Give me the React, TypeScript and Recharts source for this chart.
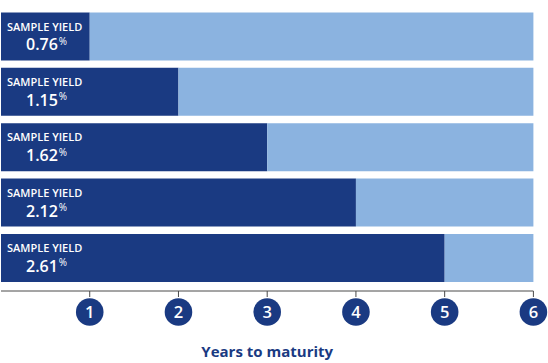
import React from "react";
import { BarChart, Bar, XAxis, YAxis, LabelList } from "recharts";

const yields = ["0.76", "1.15", "1.62", "2.12", "2.61"];
const maturity = [1, 2, 3, 4, 5];
const remainder = [5, 4, 3, 2, 1];
const xTicks = [1, 2, 3, 4, 5, 6];

const NAVY = "#1a3a82";
const LIGHT = "#8bb3e0";
const FONT = "'Open Sans', sans-serif";

const data = yields.map((y, i) => ({
  yield: y,
  years: maturity[i],
  rest: remainder[i],
}));

function CircleTick(props: any) {
  const { x, y, payload } = props;
  return (
    <g>
      <circle cx={x} cy={y + 15} r={13.8} fill={NAVY} />
      <text
        x={x}
        y={y + 21}
        textAnchor="middle"
        fill="#fff"
        fontSize={16.5}
        fontWeight={600}
        fontFamily={FONT}
      >
        {payload.value}
      </text>
    </g>
  );
}

function YieldLabel(props: any) {
  const { x, y, value } = props;
  return (
    <g fill="#fff" fontFamily={FONT}>
      <text x={x + 6} y={y + 18.2} fontSize={11} fontWeight={600}>
        SAMPLE YIELD
      </text>
      <text x={x + 25} y={y + 38} fontSize={16} fontWeight={600}>
        {value}
        <tspan fontSize={10} fontWeight={400} dx={1} dy={-5.5}>
          %
        </tspan>
      </text>
    </g>
  );
}

export default function App() {
  return (
    <div style={{ position: "absolute", left: 0, top: 0, background: "#fff", fontFamily: FONT }}>
      <BarChart
        layout="vertical"
        width={548}
        height={363}
        data={data}
        margin={{ top: 0, right: 14.6, bottom: 0, left: 1 }}
      >
        <XAxis
          type="number"
          domain={[0, 6]}
          ticks={xTicks}
          height={72}
          axisLine={{ stroke: "#4a4a4a" }}
          tickLine={{ stroke: "#4a4a4a" }}
          tickSize={6}
          tickMargin={0}
          tick={<CircleTick />}
          interval={0}
          label={{
            value: "Years to maturity",
            position: "insideBottom",
            offset: 6,
            fill: NAVY,
            fontSize: 15,
            fontWeight: 700,
            fontFamily: FONT,
          }}
        />
        <YAxis
          type="category"
          dataKey="yield"
          width={0}
          tick={false}
          tickLine={false}
          axisLine={{ stroke: "#4a4a4a" }}
          padding={{ top: 8.4, bottom: 5.7 }}
        />
        <Bar dataKey="years" stackId="a" fill={NAVY} barSize={48} isAnimationActive={false}>
          <LabelList dataKey="yield" content={<YieldLabel />} />
        </Bar>
        <Bar dataKey="rest" stackId="a" fill={LIGHT} barSize={48} isAnimationActive={false} />
      </BarChart>
    </div>
  );
}
